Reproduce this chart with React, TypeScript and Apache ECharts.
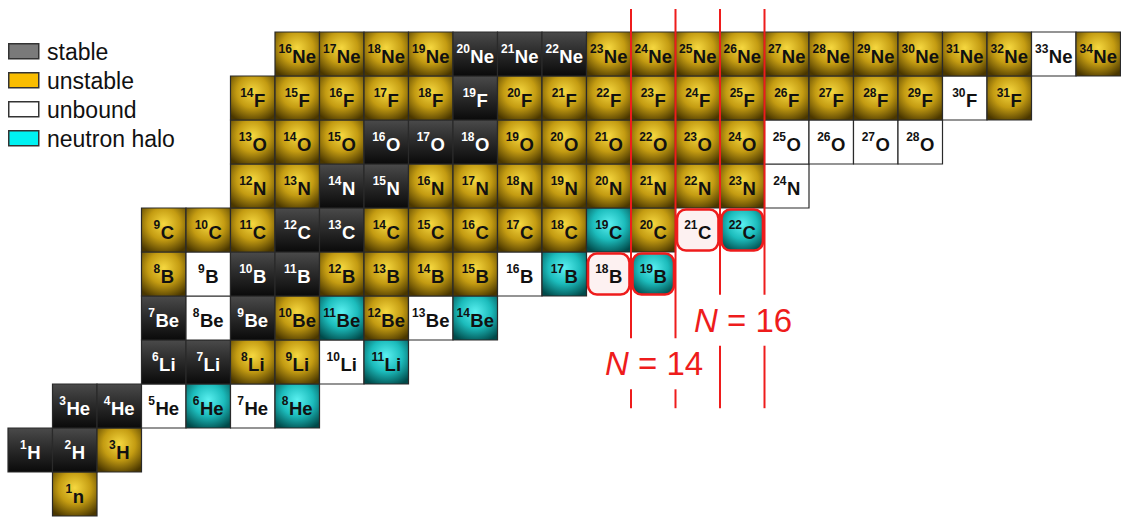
import React, { useEffect, useRef } from 'react';
import * as echarts from 'echarts';

// ---------- data ----------
const elements = ['n', 'H', 'He', 'Li', 'Be', 'B', 'C', 'N', 'O', 'F', 'Ne']; // index = Z
const massMin = [1, 1, 3, 6, 7, 8, 9, 12, 13, 14, 16];
const massMax = [1, 3, 8, 11, 14, 19, 22, 24, 28, 31, 34];
const stable = ['1H', '2H', '3He', '4He', '6Li', '7Li', '7Be', '9Be', '10B', '11B', '12C', '13C', '14N', '15N', '16O', '17O', '18O', '19F', '20Ne', '21Ne', '22Ne'];
const unbound = ['5He', '7He', '10Li', '8Be', '13Be', '9B', '16B', '18B', '21C', '24N', '25O', '26O', '27O', '28O', '30F', '33Ne'];
const halo = ['6He', '8He', '11Li', '11Be', '14Be', '17B', '19B', '19C', '22C'];
const highlighted = ['18B', '19B', '21C', '22C'];
const legendLabels = ['stable', 'unstable', 'unbound', 'neutron halo'];
const magicN = [14, 16];
const magicLabels = ['N = 14', 'N = 16'];
const magicLabelY = [3.46, 4.45];

// ---------- styles ----------
const FONT = '"Liberation Sans", Arial, Helvetica, sans-serif';
const legendFill = ['#7a7a7a', '#f9bd00', '#ffffff', '#00f2f2'];
const RED = '#ee1c1c';

function radial(stops: string[]) {
  return {
    type: 'radial', x: 0.5, y: 0.36, r: 0.72,
    colorStops: [
      { offset: 0, color: stops[0] },
      { offset: 0.5, color: stops[1] },
      { offset: 1, color: stops[2] },
    ],
  };
}
const darkFill = {
  type: 'linear', x: 0, y: 0, x2: 0, y2: 1,
  colorStops: [
    { offset: 0, color: '#4a4a4a' },
    { offset: 0.45, color: '#2c2c2c' },
    { offset: 1, color: '#0a0a0a' },
  ],
};
const cellFills: any[] = [
  darkFill,
  radial(['#f6d840', '#c49c12', '#4a3700']),
  '#ffffff',
  radial(['#5af0f0', '#1cbcbc', '#004a4a']),
];

let measureCtx: CanvasRenderingContext2D | null = null;
function textWidth(text: string, font: string) {
  if (!measureCtx) measureCtx = document.createElement('canvas').getContext('2d');
  if (!measureCtx) return text.length * 8;
  measureCtx.font = font;
  return measureCtx.measureText(text).width;
}

function buildCells() {
  const rows: number[][] = [];
  for (let z = 0; z < elements.length; z++) {
    for (let a = massMin[z]; a <= massMax[z]; a++) {
      const key = a + elements[z];
      let state = 1;
      if (stable.includes(key)) state = 0;
      else if (unbound.includes(key)) state = 2;
      else if (halo.includes(key)) state = 3;
      const hl = highlighted.includes(key) ? 1 : 0;
      rows.push([a - z, z, a, state, hl]);
    }
  }
  rows.sort((p, q) => p[4] - q[4]);
  return rows;
}

export default function App() {
  const ref = useRef<HTMLDivElement>(null);
  useEffect(() => {
    if (!ref.current) return;
    const chart = echarts.init(ref.current, null, { renderer: 'svg' });
    const cells = buildCells();

    const legendGraphics: any[] = [];
    legendLabels.forEach((lab, i) => {
      const yc = 51 + i * 29;
      legendGraphics.push({
        type: 'rect', left: 8, top: yc - 8,
        shape: { width: 30, height: 15 },
        style: { fill: legendFill[i], stroke: '#333', lineWidth: 1.5 },
      });
      legendGraphics.push({
        type: 'text', x: 47, y: yc + 1,
        style: { text: lab, fontSize: 23, fontFamily: FONT, fill: '#111', verticalAlign: 'middle', align: 'left' },
      });
    });

    const option: any = {
      animation: false,
      grid: { left: 8, top: 32, width: 1112.5, height: 484 },
      xAxis: { type: 'value', min: 0, max: 25, show: false },
      yAxis: { type: 'value', min: 0, max: 11, show: false },
      graphic: legendGraphics,
      series: [
        {
          type: 'custom',
          clip: false,
          data: cells,
          renderItem: (params: any, api: any) => {
            const n = api.value(0), z = api.value(1), a = api.value(2);
            const st = api.value(3), hl = api.value(4);
            const tl = api.coord([n, z + 1]);
            const sz = api.size([1, 1]);
            const x = tl[0], y = tl[1], w = sz[0], h = sz[1];
            const cx = x + w / 2, cy = y + h / 2;
            const children: any[] = [];
            if (hl) {
              children.push({
                type: 'rect',
                shape: { x: x + 1.5, y: y + 1.5, width: w - 3, height: h - 3, r: 9 },
                style: { fill: st === 2 ? '#fdf1f1' : cellFills[st], stroke: RED, lineWidth: 2.6 },
              });
            } else {
              children.push({
                type: 'rect',
                shape: { x, y, width: w, height: h },
                style: { fill: cellFills[st], stroke: '#2a2a2a', lineWidth: 1.2 },
              });
            }
            const sym = elements[z];
            const sup = String(a);
            const supFont = `bold 12px ${FONT}`;
            const symFont = `bold 18.5px ${FONT}`;
            const supW = textWidth(sup, supFont);
            const symW = textWidth(sym, symFont);
            const x0 = cx - (supW + 0.5 + symW) / 2;
            const color = st === 0 ? '#ffffff' : '#111111';
            children.push({
              type: 'text', x: x0, y: cy - 5.5,
              style: { text: sup, font: supFont, fill: color, align: 'left', verticalAlign: 'middle' },
            });
            children.push({
              type: 'text', x: x0 + supW + 0.5, y: cy + 2.5,
              style: { text: sym, font: symFont, fill: color, align: 'left', verticalAlign: 'middle' },
            });
            return { type: 'group', children };
          },
        },
        {
          type: 'custom',
          clip: false,
          data: magicN.map((m, i) => [m, magicLabelY[i], i]),
          renderItem: (params: any, api: any) => {
            const m = api.value(0), ly = api.value(1), i = api.value(2);
            const children: any[] = [];
            const gap = 0.58;
            [m, m + 1].forEach((xv) => {
              const segs = [[11.52, ly + gap], [ly - gap, 2.45]];
              segs.forEach(([y1, y2]) => {
                const p1 = api.coord([xv, y1]);
                const p2 = api.coord([xv, y2]);
                children.push({
                  type: 'line',
                  shape: { x1: p1[0], y1: p1[1], x2: p2[0], y2: p2[1] },
                  style: { stroke: RED, lineWidth: 2 },
                });
              });
            });
            const lp = api.coord([m + 0.52, ly]);
            const label = magicLabels[i];
            const rest = label.slice(1);
            children.push({
              type: 'text', x: lp[0], y: lp[1],
              style: {
                text: `{it|N}{rm|${rest}}`,
                align: 'center', verticalAlign: 'middle',
                rich: {
                  it: { fontSize: 33, fontStyle: 'italic', fontFamily: FONT, fill: RED, color: RED },
                  rm: { fontSize: 33, fontFamily: FONT, fill: RED, color: RED },
                },
              },
            });
            return { type: 'group', children };
          },
        },
      ],
    };
    chart.setOption(option);
    return () => chart.dispose();
  }, []);
  return (
    <div
      ref={ref}
      style={{ position: 'absolute', left: 0, top: 0, width: 1121, height: 518, background: '#ffffff' }}
    />
  );
}
